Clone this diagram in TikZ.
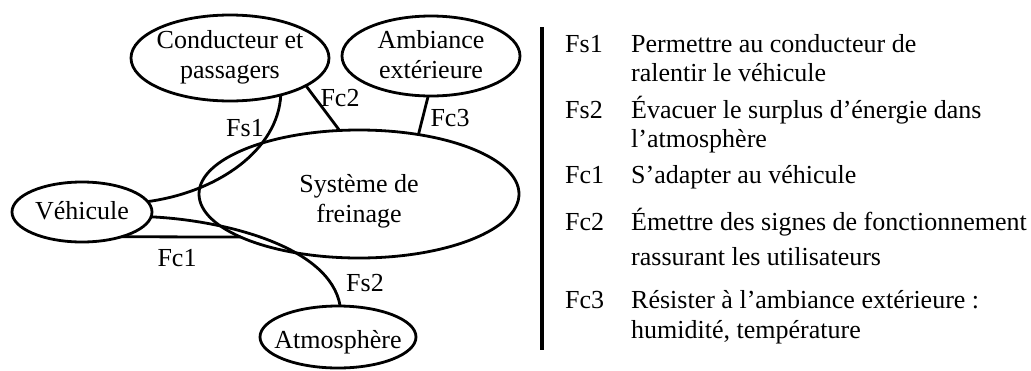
\documentclass[tikz,border=0pt]{standalone}
\usepackage{fontspec}
\setmainfont{Liberation Serif}
\usetikzlibrary{shapes.geometric}
\tikzset{
  ell/.style={draw, ellipse, line width=2.8pt, inner sep=0pt, outer sep=0pt},
  txt/.style={font=\fontsize{26}{30}\selectfont, align=center, inner sep=0pt},
  lab/.style={font=\fontsize{26}{30}\selectfont, inner sep=0pt},
  item/.style={font=\fontsize{26}{30}\selectfont, inner sep=0pt, anchor=base west},
  conn/.style={line width=2.8pt},
}
\begin{document}
\begin{tikzpicture}[x=1pt,y=-1pt]
\useasboundingbox (0,0) rectangle (1031,370);
% ellipses
\node[ell, minimum width=198pt, minimum height=86pt] (cond) at (230,58) {};
\node[ell, minimum width=178pt, minimum height=80pt] (amb) at (431,56) {};
\node[ell, minimum width=320pt, minimum height=128pt] (sys) at (359,194) {};
\node[ell, minimum width=140pt, minimum height=60pt] (veh) at (82,212) {};
\node[ell, minimum width=156pt, minimum height=62pt] (atm) at (338,337) {};
% texts inside
\node[txt] (tcond) at (230,57) {Conducteur et\\passagers};
\node[txt] (tamb) at (431,55) {Ambiance\\extérieure};
\node[txt] (tsys) at (359,201) {Système de\\freinage};
\node[txt] (tveh) at (82,211) {Véhicule};
\node[txt] (tatm) at (338,342) {Atmosphère};
% connectors
\draw[conn] (cond.-36) .. controls (278,150) and (218,192) .. (veh.9);
\draw[conn] (cond.-20) -- (sys.107);
\draw[conn] (amb.-94) -- (sys.45.5);
\draw[conn] (veh.-32.9) -- (sys.200);
\draw[conn] (veh.-4) .. controls (220,220) and (330,245) .. (atm.86);
% connector labels
\node[lab] (lfs1) at (245,128) {Fs1};
\node[lab] (lfc2) at (340,98) {Fc2};
\node[lab] (lfc3) at (450,118) {Fc3};
\node[lab] (lfc1) at (177,258) {Fc1};
\node[lab] (lfs2) at (365,283) {Fs2};
% right column
\coordinate (bartop) at (542,27);
\coordinate (barbot) at (542,350);
\draw[line width=4pt] (bartop) -- (barbot);
\node[item] (k1) at (565,52) {Fs1};
\node[item] (d1a) at (631,52) {Permettre au conducteur de};
\node[item] (d1b) at (631,81) {ralentir le véhicule};
\node[item] (k2) at (565,118) {Fs2};
\node[item] (d2a) at (631,118) {Évacuer le surplus d’énergie dans};
\node[item] (d2b) at (631,147) {l’atmosphère};
\node[item] (k3) at (565,183) {Fc1};
\node[item] (d3a) at (631,183) {S’adapter au véhicule};
\node[item] (k4) at (565,230) {Fc2};
\node[item] (d4a) at (631,230) {Émettre des signes de fonctionnement};
\node[item] (d4b) at (631,265) {rassurant les utilisateurs};
\node[item] (k5) at (565,308) {Fc3};
\node[item] (d5a) at (631,308) {Résister à l’ambiance extérieure :};
\node[item] (d5b) at (631,338) {humidité, température};
\end{tikzpicture}
\end{document}
